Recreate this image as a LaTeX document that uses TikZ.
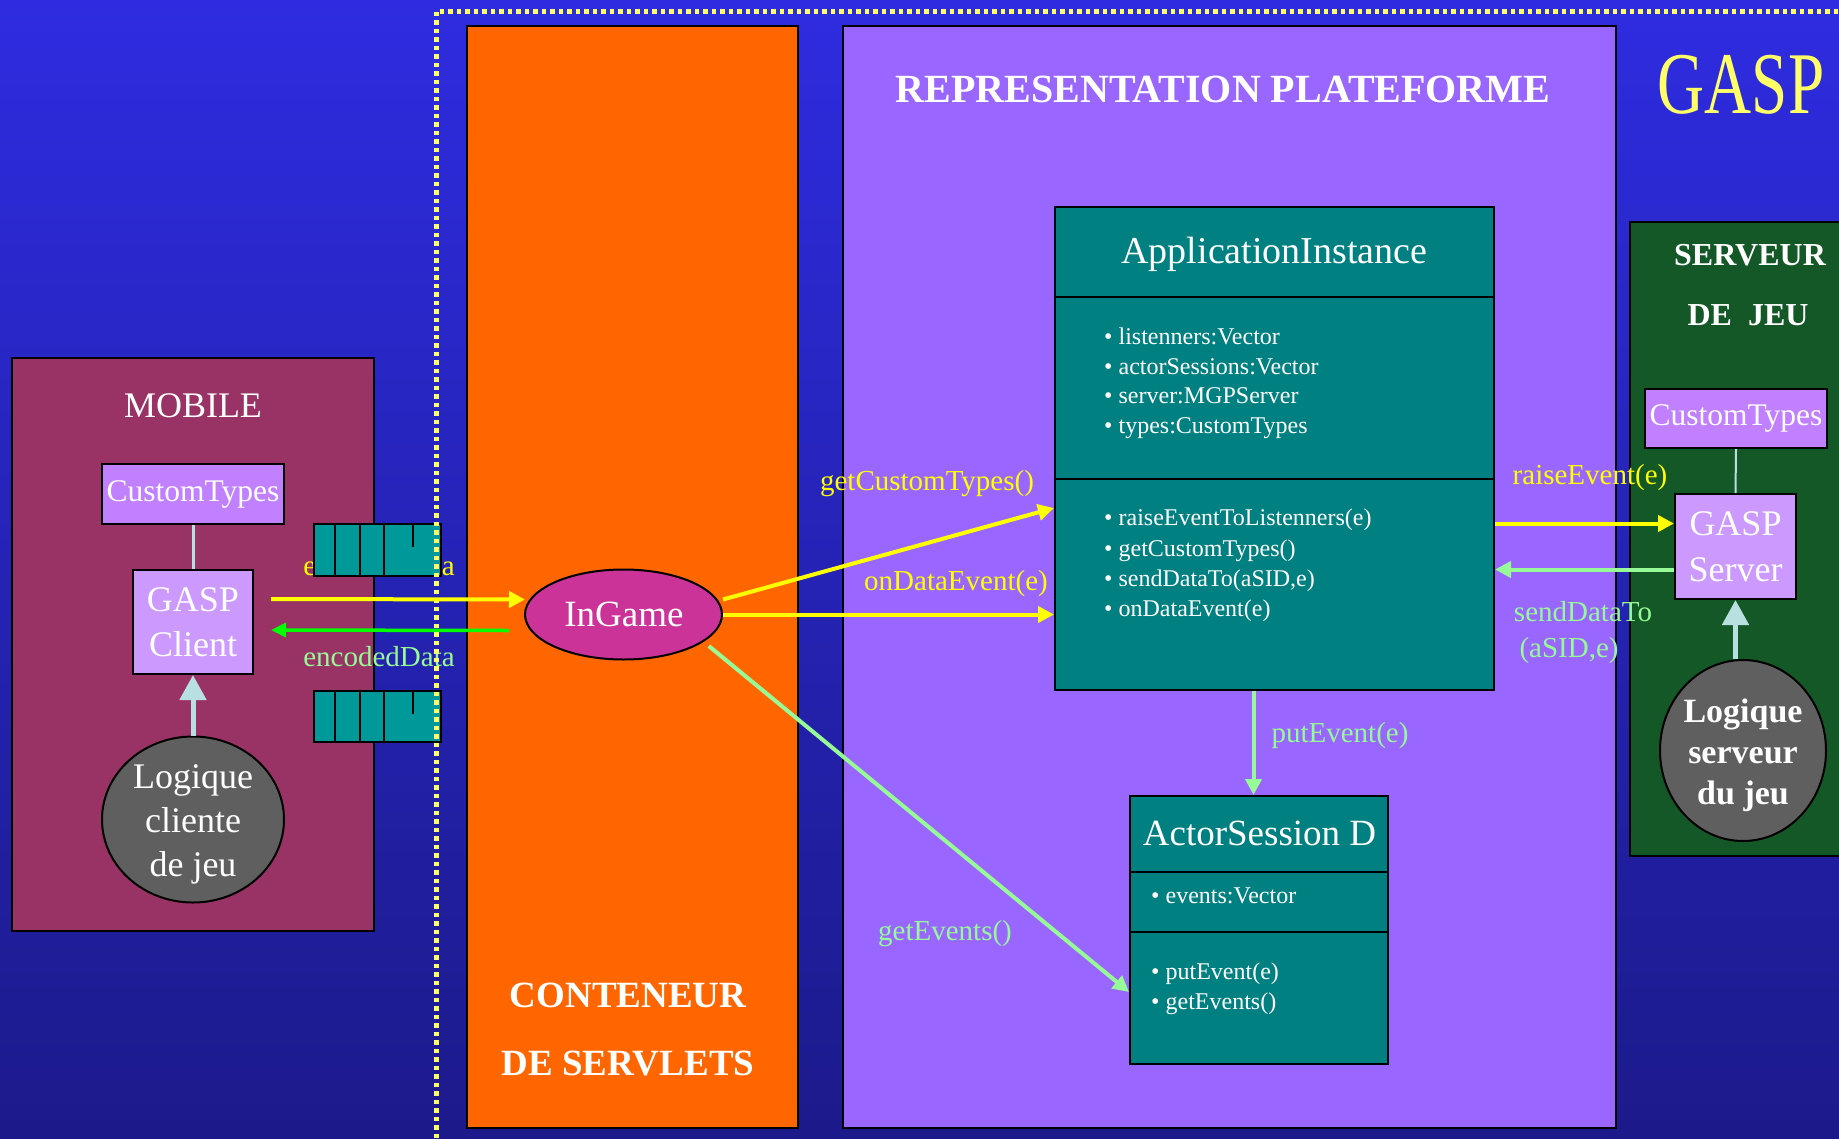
\documentclass[tikz,border=0pt]{standalone}
\usepackage{fontspec}
\usepackage{graphicx}
\setmainfont{Liberation Serif}
\usetikzlibrary{arrows.meta,shapes.geometric,calc}

\definecolor{bgtop}{RGB}{46,44,224}
\definecolor{bgbot}{RGB}{28,26,138}
\definecolor{servletor}{RGB}{255,102,0}
\definecolor{platviolet}{RGB}{153,102,255}
\definecolor{mobilered}{RGB}{153,51,102}
\definecolor{servgreen}{RGB}{20,88,40}
\definecolor{ctviolet}{RGB}{192,128,255}
\definecolor{clientviolet}{RGB}{204,153,255}
\definecolor{classteal}{RGB}{0,128,128}
\definecolor{queueteal}{RGB}{0,153,153}
\definecolor{logicgray}{RGB}{95,95,95}
\definecolor{ingamemag}{RGB}{204,51,153}
\definecolor{msgyellow}{RGB}{255,255,0}
\definecolor{msggreen}{RGB}{150,250,150}
\definecolor{brightgreen}{RGB}{0,255,0}
\definecolor{linkcyan}{RGB}{185,224,224}
\definecolor{titleyellow}{RGB}{255,255,102}

\newcommand\setfs[2]{\fontsize{#1}{#2}\selectfont}

\begin{document}
\begin{tikzpicture}[x=1pt,y=-1pt,
  box/.style={draw=black,line width=2pt,inner sep=0pt},
  txt/.style={text=white,inner sep=0pt},
  lbl/.style={inner sep=0pt,anchor=base,font=\setfs{29}{34}},
  item/.style={txt,anchor=base west,font=\setfs{24}{30}},
  ctitle/.style={txt,anchor=base,font=\setfs{38}{44}},
  yarrow/.style={draw=msgyellow,line width=4pt,-{Triangle[length=16pt,width=16pt]}},
  garrow/.style={draw=msggreen,line width=4pt,-{Triangle[length=16pt,width=16pt]}},
  barrow/.style={draw=brightgreen,line width=3.5pt,-{Triangle[length=15pt,width=14pt]}},
  cyarrow/.style={draw=linkcyan,line width=5pt,-{Triangle[length=25pt,width=26pt]}},
  cyline/.style={draw=linkcyan,line width=3pt},
  dotframe/.style={draw=titleyellow,line width=5pt,dash pattern=on 4.5pt off 4pt}
]
\useasboundingbox (0,0) rectangle (1839,1138);
\shade[top color=bgtop,bottom color=bgbot] (0,0) rectangle (1839,1138);

% containers
\node[box,fill=servletor,minimum width=331pt,minimum height=1102pt] (servlets) at (632.5,577) {};
\node[box,fill=platviolet,minimum width=773pt,minimum height=1102pt] (plateforme) at (1229.5,577) {};
\node[box,fill=mobilered,minimum width=362pt,minimum height=573pt] (mobile) at (193,644.5) {};
\node[box,fill=servgreen,minimum width=224pt,minimum height=634pt] (serveur) at (1742,539) {};

% container titles
\node[inner sep=0pt,anchor=base,text=titleyellow,font=\setfs{88}{88}] (gasptitle) at (1741,113) {\scalebox{0.74}[1]{GASP}};
\node[txt,anchor=base,font=\bfseries\setfs{40}{44}] (plattitle) at (1223,102) {REPRESENTATION PLATEFORME};
\node[txt,anchor=base,font=\setfs{36}{40}] (mobtitle) at (193,417) {MOBILE};
\node[txt,anchor=base,font=\bfseries\setfs{37}{40}] (servtitle1) at (628,1007) {CONTENEUR};
\node[txt,anchor=base,font=\bfseries\setfs{37}{40}] (servtitle2) at (628,1075) {DE SERVLETS};
\node[txt,anchor=base,font=\bfseries\setfs{32}{36}] (jeutitle1) at (1750,265) {SERVEUR};
\node[txt,anchor=base,font=\bfseries\setfs{32}{36}] (jeutitle2) at (1748,325) {DE\ \ JEU};

% mobile side
\node[box,fill=ctviolet,minimum width=182pt,minimum height=60pt,txt,font=\setfs{31.5}{36}] (ctmob) at (193,494) {CustomTypes};
\node[box,fill=clientviolet,minimum width=120pt,minimum height=104pt,txt,align=center,font=\setfs{36}{45}] (gclient) at (193,622) {GASP\\Client};
\node[box,ellipse,fill=logicgray,minimum width=182pt,minimum height=166pt] (lclient) at (193,819.5) {};
\node[txt,align=center,font=\setfs{36}{44}] (lclientlbl) at (193,824.5) {Logique\\cliente\\de jeu};
\draw[cyline] (ctmob.south) -- (gclient.north);
\draw[cyarrow] (lclient.north) -- (gclient.south);

% message queues
\node[lbl,text=msgyellow] (encup) at (379,575) {encodedData};
\node[lbl,text=msggreen] (encdown) at (379,666) {encodedData};
\node[box,fill=queueteal,minimum width=127pt,minimum height=52pt] (qup) at (377.5,550) {};
\node[box,fill=queueteal,minimum width=127pt,minimum height=51pt] (qdown) at (377.5,716.5) {};
\foreach \q in {qup,qdown}{
  \foreach \dx in {22,47,71}
    \draw[line width=2.5pt] ($(\q.north west)+(\dx,0)$) -- ($(\q.south west)+(\dx,0)$);
  \draw[line width=2.5pt] ($(\q.north west)+(100,0)$) -- ++(0,24);
}

% servlet
\node[box,ellipse,fill=ingamemag,minimum width=197pt,minimum height=90pt] (ingame) at (623.5,614.5) {};
\node[txt,anchor=base,font=\setfs{37}{40}] (ingamelbl) at (624,626) {InGame};

% ApplicationInstance class
\node[box,fill=classteal,minimum width=439pt,minimum height=90pt] (aititle) at (1274.5,252) {};
\node[box,fill=classteal,minimum width=439pt,minimum height=182pt] (aiattr) at (1274.5,388) {};
\node[box,fill=classteal,minimum width=439pt,minimum height=211pt] (aimeth) at (1274.5,584.5) {};
\node[ctitle] (ainame) at (1274.5,263) {ApplicationInstance};
\node[item] (aia1) at (1104,344) {\textbullet\ listenners:Vector};
\node[item] (aia2) at (1104,374) {\textbullet\ actorSessions:Vector};
\node[item] (aia3) at (1104,403) {\textbullet\ server:MGPServer};
\node[item] (aia4) at (1104,433) {\textbullet\ types:CustomTypes};
\node[item] (aim1) at (1104,525) {\textbullet\ raiseEventToListenners(e)};
\node[item] (aim2) at (1104,556) {\textbullet\ getCustomTypes()};
\node[item] (aim3) at (1104,586) {\textbullet\ sendDataTo(aSID,e)};
\node[item] (aim4) at (1104,616) {\textbullet\ onDataEvent(e)};

% ActorSession class
\node[box,fill=classteal,minimum width=258pt,minimum height=76pt] (astitle) at (1259,834) {};
\node[box,fill=classteal,minimum width=258pt,minimum height=60pt] (asattr) at (1259,902) {};
\node[box,fill=classteal,minimum width=258pt,minimum height=132pt] (asmeth) at (1259,998) {};
\node[ctitle,font=\setfs{37}{44}] (asname) at (1259.5,845) {ActorSession D};
\node[item] (asa1) at (1151,903) {\textbullet\ events:Vector};
\node[item] (asm1) at (1151,979) {\textbullet\ putEvent(e)};
\node[item] (asm2) at (1151,1009) {\textbullet\ getEvents()};

% game server side
\node[box,fill=ctviolet,minimum width=182pt,minimum height=59pt,txt,font=\setfs{31.5}{36}] (ctserv) at (1736,418.5) {CustomTypes};
\node[box,fill=clientviolet,minimum width=121pt,minimum height=105pt,txt,align=center,font=\setfs{36}{46}] (gserver) at (1735.5,546.5) {GASP\\Server};
\node[box,ellipse,fill=logicgray,minimum width=166pt,minimum height=181pt] (lserver) at (1743,750.5) {};
\node[txt,align=center,font=\bfseries\setfs{34}{41}] (lserverlbl) at (1743,755.5) {Logique\\serveur\\du jeu};
\draw[cyline,line width=2pt] (ctserv.south) -- (gserver.north);
\draw[cyarrow] (gserver.south |- lserver.north) -- (gserver.south);

% yellow dotted frame
\draw[dotframe] (436,1138) -- (436,11) -- (1839,11);

% messages
\draw[yarrow] ($(gclient.east)+(17,-23)$) -- ($(ingame.west)+(1,-15)$);
\draw[barrow] ($(ingame.west)+(-15,16)$) -- ($(gclient.east)+(17,8)$);
\draw[yarrow] ($(ingame.east)+(0,-15)$) -- ($(aimeth.north west)+(0,30)$);
\draw[yarrow] (ingame.east) -- (ingame.east -| aimeth.west);
\draw[garrow] ($(ingame.south east)+(15,-1)$) -- ($(asmeth.west)+(0,-6)$);
\coordinate (pe) at ($(aimeth.south)+(-21,0)$);
\draw[garrow] (pe) -- (pe |- astitle.north);
\coordinate (re) at ($(aimeth.east)+(0,-61)$);
\draw[yarrow] (re) -- (re -| gserver.west);
\coordinate (sd) at ($(gserver.west)+(0,23)$);
\draw[garrow] (sd) -- (sd -| aimeth.east);

% message labels
\node[lbl,text=msgyellow] (lgct) at (927,490) {getCustomTypes()};
\node[lbl,text=msgyellow] (lode) at (956,590) {onDataEvent(e)};
\node[lbl,text=msggreen] (lge) at (945,940) {getEvents()};
\node[lbl,text=msggreen] (lpe) at (1340,742) {putEvent(e)};
\node[lbl,text=msgyellow] (lre) at (1590,484) {raiseEvent(e)};
\node[lbl,text=msggreen] (lsd1) at (1583,621) {sendDataTo};
\node[lbl,text=msggreen] (lsd2) at (1569,657) {(aSID,e)};
\end{tikzpicture}
\end{document}
